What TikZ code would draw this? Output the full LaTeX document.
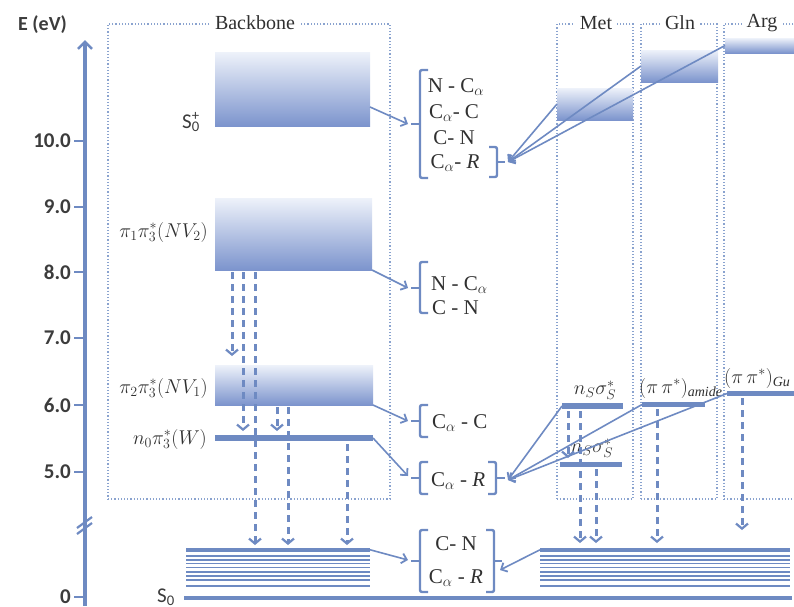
\documentclass[tikz,border=0pt]{standalone}
\usepackage{fix-cm}
\usepackage{fontspec}
\setmainfont{Liberation Serif}
\newfontfamily\axisfont{Carlito}
\usetikzlibrary{arrows.meta,calc}
\definecolor{lb}{HTML}{6E8AC2}
\definecolor{dotc}{HTML}{8AA3CF}
\definecolor{gtop}{HTML}{EEF2FA}
\definecolor{gbot}{HTML}{7C94CD}
\definecolor{txt}{HTML}{303030}
\definecolor{axt}{HTML}{3C3C3C}
\begin{document}
\begin{tikzpicture}[x=1pt,y=-1pt,
  dotbox/.style={draw=dotc, dotted, line width=1.2pt, inner sep=0pt, outer sep=0pt, anchor=north west},
  ttl/.style={fill=white, text=txt, font=\fontsize{20}{24}\selectfont, inner xsep=5pt, inner ysep=1pt},
  grad/.style={top color=gtop, bottom color=gbot, inner sep=0pt, outer sep=0pt, anchor=north west},
  bar/.style={fill=lb, inner sep=0pt, outer sep=0pt, anchor=north west},
  darr/.style={draw=lb, line width=3pt, dash pattern=on 7pt off 5pt, -{Straight Barb[length=5pt,width=12pt,line width=2.2pt]}},
  sarr/.style={draw=lb, line width=1.6pt, -{Straight Barb[length=5pt,width=10pt,line width=1.8pt]}},
  brk/.style={draw=lb, line width=2.4pt, rounded corners=2pt},
  bt/.style={text=txt, font=\fontsize{21}{25}\selectfont, inner sep=0pt, anchor=base},
  mt/.style={text=txt, font=\fontsize{20}{24}\selectfont, inner sep=0pt},
  ax/.style={text=axt, font=\axisfont\bfseries\fontsize{21}{24}\selectfont, inner sep=0pt},
]
\useasboundingbox (0,0) rectangle (794,606);

% ---- energy axis
\coordinate (axb) at (85,606);
\coordinate (axtop) at (85,40);
\draw[draw=lb, line width=3.2pt, -{Straight Barb[length=7pt,width=14pt,line width=2.6pt]}] (axb) -- (axtop);
\foreach \yy/\lab [count=\i] in {141/10.0,207/9.0,272/8.0,338/7.0,405/6.0,472/5.0,597/0}{
  \draw[lb, line width=2.8pt] (74,\yy) -- (85,\yy);
  \node[ax, anchor=east] (tk\i) at (71,\yy) {\lab};
}
\draw[lb, line width=2.2pt] (77,528) -- (92,517) (77,534) -- (92,523);
\node[ax, anchor=base west, font=\axisfont\bfseries\fontsize{20}{24}\selectfont] (elab) at (18,30) {E (eV)};

% ---- dotted group boxes
\node[dotbox, minimum width=282pt, minimum height=475pt] (bbx) at (108,24) {};
\node[dotbox, minimum width=76pt, minimum height=475pt] (metx) at (557,24) {};
\node[dotbox, minimum width=76pt, minimum height=475pt] (glnx) at (641,24) {};
\node[dotbox, minimum width=90pt, minimum height=475pt] (argx) at (724,24) {};
\node[ttl] (bbt) at (255,23) {Backbone};
\node[ttl] (mett) at (596,23) {Met};
\node[ttl] (glnt) at (680,23) {Gln};
\node[ttl] (argt) at (762,23) {Arg};

% ---- backbone levels
\node[grad, minimum width=155pt, minimum height=74pt] (s0p) at (215,52) {};
\node[grad, minimum width=157pt, minimum height=72pt] (pi1) at (215,198) {};
\node[grad, minimum width=158pt, minimum height=40pt] (pi2) at (215,365) {};
\node[bar, minimum width=158pt, minimum height=6pt] (n0) at (215,435) {};

% ---- side-chain levels
\node[grad, minimum width=76pt, minimum height=32pt] (metg) at (557,88) {};
\node[grad, minimum width=77pt, minimum height=32pt] (glng) at (641,50) {};
\node[grad, minimum width=75pt, minimum height=15pt] (argg) at (725,38) {};
\node[bar, minimum width=61pt, minimum height=6pt] (ns1) at (562,403) {};
\node[bar, minimum width=62pt, minimum height=5pt] (ns2) at (560,462) {};
\node[bar, minimum width=63pt, minimum height=5pt] (amide) at (642,402) {};
\node[bar, minimum width=67pt, minimum height=5pt] (gu) at (727,391) {};

% ---- ground-state manifolds
\node[bar, minimum width=184pt, minimum height=4.5pt] (manL) at (186,547.5) {};
\node[bar, minimum width=250pt, minimum height=4.5pt] (manR) at (540,547.5) {};
\foreach \yy in {556,560,563.5,567.5,572,576,580,586}{
  \draw[lb, line width=1.8pt] (186,\yy) -- (370,\yy);
  \draw[lb, line width=1.8pt] (540,\yy) -- (790,\yy);
}
\node[bar, minimum width=608pt, minimum height=4pt] (s0line) at (184,595.5) {};

% ---- level labels
\node[ax, anchor=base west, font=\axisfont\fontsize{21}{24}\selectfont] (s0plab) at (182,128) {S\rlap{\textsubscript{0}}\textsuperscript{+}};
\node[ax, anchor=base west, font=\axisfont\fontsize{21}{24}\selectfont] (s0lab) at (157,602) {S\textsubscript{0}};
\node[mt, anchor=east] (pi1lab) at (208,232) {$\pi_1\pi_3^*(NV_2)$};
\node[mt, anchor=east] (pi2lab) at (208,388) {$\pi_2\pi_3^*(NV_1)$};
\node[mt, anchor=east] (n0lab) at (207,439) {$n_0\pi_3^*(W)$};
\node[mt] (ns1lab) at (595,390) {$n_S\sigma_S^*$};
\node[mt] (ns2lab) at (592,448) {$n_S\sigma_S^*$};
\node[mt, anchor=west] (amlab) at (639,388) {$(\pi\,\pi^*)_{\mathit{amide}}$};
\node[mt, anchor=west] (gulab) at (724,378) {$(\pi\,\pi^*)_{\mathit{Gu}}$};

% ---- dashed relaxation arrows
\draw[darr] (pi1.south west) ++(17,2) -- ++(0,84);
\draw[darr] (pi1.south west) ++(28,2) -- ++(0,159);
\draw[darr] (pi1.south west) ++(40,2) -- ++(0,273);
\draw[darr] (pi2.south west) ++(62,2) -- ++(0,24);
\draw[darr] (pi2.south west) ++(73,2) -- ++(0,138);
\draw[darr] (n0.south west) ++(132,3) -- ++(0,101);
\draw[darr] (ns1.south west) ++(6,2) -- ++(0,47);
\draw[darr] (ns1.south west) ++(18,2) -- ++(0,132);
\draw[darr] (ns2.south west) ++(36,2) -- ++(0,74);
\draw[darr] (amide.south west) ++(15,2) -- ++(0,134);
\draw[darr] (gu.south west) ++(15,2) -- ++(0,132);

% ---- bond groups
\node[bt] (g1a) at (456,92) {N - C$_\alpha$};
\node[bt] (g1b) at (454,118) {C$_\alpha$- C};
\node[bt] (g1c) at (454,144) {C- N};
\node[bt] (g1d) at (455,168) {C$_\alpha$- \textit{R}};
\draw[brk] (428,70) -- (420,70) -- (420,178) -- (428,178);
\draw[brk] (420,124) -- (411,124);
\draw[brk] (489,147) -- (497,147) -- (497,177) -- (489,177);
\draw[brk] (497,162) -- (505,162);
\coordinate (t1L) at (408,124);
\coordinate (t1R) at (508,162);

\node[bt, anchor=base west] (g2a) at (431,290) {N - C$_\alpha$};
\node[bt, anchor=base west] (g2b) at (432,314) {C - N};
\draw[brk] (428,262) -- (420,262) -- (420,313) -- (428,313);
\draw[brk] (420,288) -- (411,288);
\coordinate (t2L) at (408,288);

\node[bt, anchor=base west] (g3a) at (432,428) {C$_\alpha$ - C};
\draw[brk] (428,405) -- (420,405) -- (420,437) -- (428,437);
\draw[brk] (420,421) -- (411,421);
\coordinate (t3L) at (408,421);

\node[bt, anchor=base west] (g4a) at (431,486) {C$_\alpha$ - \textit{R}};
\draw[brk] (428,462) -- (420,462) -- (420,494) -- (428,494);
\draw[brk] (420,478) -- (411,478);
\draw[brk] (488,462) -- (496,462) -- (496,494) -- (488,494);
\draw[brk] (496,478) -- (505,478);
\coordinate (t4L) at (408,476);
\coordinate (t4R) at (508,480);

\node[bt] (g5a) at (456,550) {C- N};
\node[bt] (g5b) at (456,583) {C$_\alpha$ - \textit{R}};
\draw[brk] (428,530) -- (420,530) -- (420,592) -- (428,592);
\draw[brk] (420,561) -- (411,561);
\draw[brk] (486,530) -- (494,530) -- (494,592) -- (486,592);
\draw[brk] (494,561) -- (502,561);
\coordinate (t5L) at (408,560);
\coordinate (t5R) at (500,570);

% ---- solid arrows
\draw[sarr] ($(s0p.east)+(0,18)$) -- (t1L);
\draw[sarr] (metg.west) -- (t1R);
\draw[sarr] (glng.west) -- (t1R);
\draw[sarr] (argg.west) -- (t1R);
\draw[sarr] (pi1.south east) -- (t2L);
\draw[sarr] (pi2.south east) -- (t3L);
\draw[sarr] (n0.east) -- (t4L);
\draw[sarr] (ns1.west) -- (t4R);
\draw[sarr] (amide.west) -- (t4R);
\draw[sarr] (gu.west) -- (t4R);
\draw[sarr] (manL.east) -- (t5L);
\draw[sarr] (manR.west) -- (t5R);
\end{tikzpicture}
\end{document}
